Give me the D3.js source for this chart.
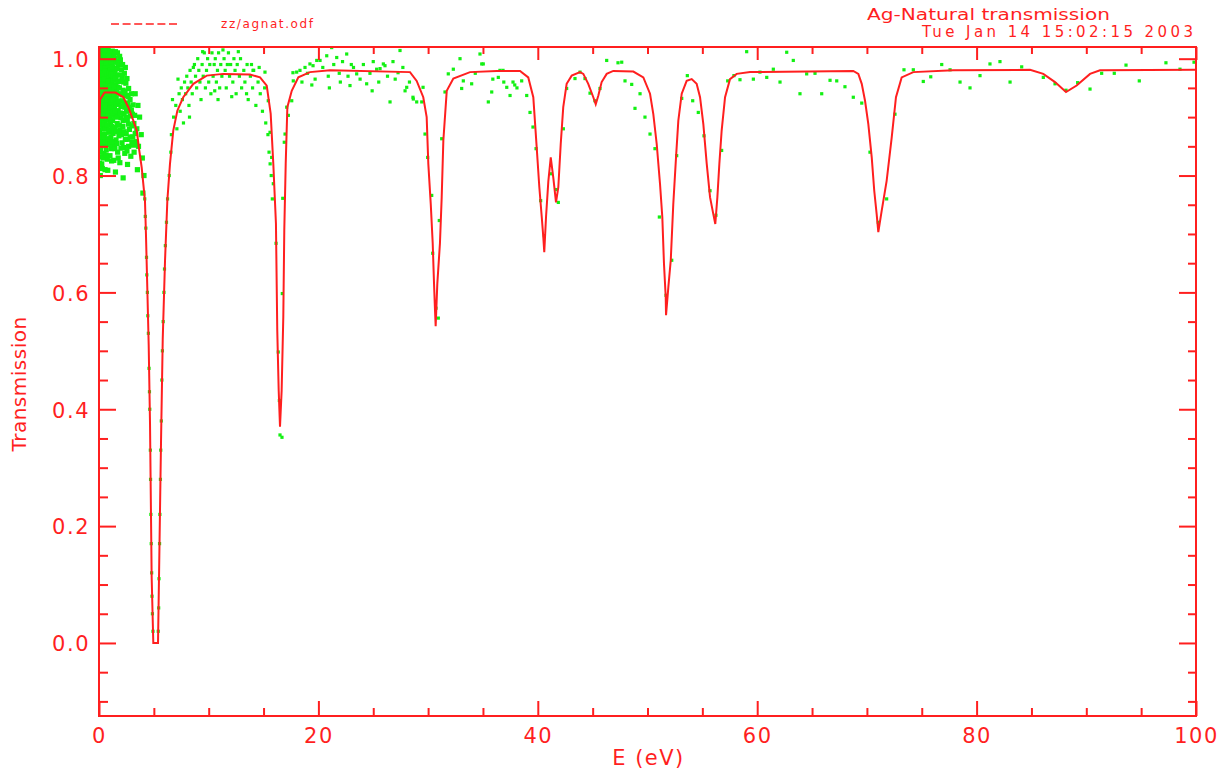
<!DOCTYPE html>
<html><head><meta charset="utf-8">
<script src="https://cdn.jsdelivr.net/npm/d3@7"></script>
<style>body{margin:0;background:#fff;overflow:hidden}</style>
</head><body>
<svg id="c" width="1229" height="773"></svg>
<script>
const titleText = "Ag-Natural transmission";
const dateText = "Tue Jan 14 15:02:15 2003";
const legendLabel = "zz/agnat.odf";
const xLabel = "E (eV)";
const yLabel = "Transmission";
const xMajorTicks = [0, 20, 40, 60, 80, 100];
const xTickLabels = ["0", "20", "40", "60", "80", "100"];
const xMinorTicks = [5,10,15,25,30,35,45,50,55,65,70,75,85,90,95];
const yMajorTicks = [0.0, 0.2, 0.4, 0.6, 0.8, 1.0];
const yTickLabels = ["0.0", "0.2", "0.4", "0.6", "0.8", "1.0"];
const yMinorTicks = [-0.1,-0.05,0.05,0.1,0.15,0.25,0.3,0.35,0.45,0.5,0.55,0.65,0.7,0.75,0.85,0.9,0.95];

// fitted transmission curve [E, T]
const fitCurve = [[0.05,0.900],[0.1,0.930],[0.5,0.942],[1.5,0.942],[2.22,0.934],[2.67,0.917],[3.13,0.894],[3.44,0.877],[3.67,0.843],[3.89,0.814],[4.19,0.757],[4.28,0.70],[4.40,0.61],[4.53,0.51],[4.65,0.376],[4.80,0.113],[4.95,0.0],[5.38,0.0],[5.50,0.15],[5.65,0.34],[5.81,0.52],[6.02,0.655],[6.23,0.757],[6.47,0.82],[6.77,0.877],[7.14,0.911],[7.68,0.934],[8.60,0.957],[9.82,0.971],[11.33,0.974],[13.76,0.973],[14.68,0.968],[15.29,0.954],[15.65,0.906],[15.89,0.82],[16.13,0.718],[16.25,0.535],[16.38,0.432],[16.50,0.37],[16.65,0.432],[16.80,0.558],[16.89,0.706],[17.02,0.82],[17.17,0.917],[17.57,0.945],[18.17,0.968],[19.23,0.977],[21.06,0.98],[28.35,0.977],[28.96,0.962],[29.56,0.934],[29.87,0.90],[30.02,0.82],[30.24,0.752],[30.42,0.684],[30.54,0.615],[30.63,0.569],[30.69,0.542],[30.84,0.615],[31.08,0.684],[31.24,0.763],[31.39,0.86],[31.70,0.945],[32.30,0.966],[33.82,0.977],[36.25,0.979],[38.38,0.979],[39.13,0.968],[39.59,0.934],[39.90,0.848],[40.14,0.78],[40.36,0.729],[40.50,0.695],[40.59,0.669],[40.75,0.729],[40.96,0.79],[41.18,0.831],[41.41,0.797],[41.66,0.754],[41.87,0.78],[42.09,0.854],[42.32,0.917],[42.63,0.957],[43.09,0.971],[43.85,0.977],[44.15,0.974],[44.60,0.957],[45.06,0.934],[45.28,0.922],[45.52,0.937],[45.82,0.96],[46.28,0.974],[46.88,0.979],[48.71,0.978],[49.62,0.968],[50.23,0.94],[50.53,0.905],[50.84,0.854],[51.14,0.786],[51.35,0.729],[51.50,0.65],[51.66,0.592],[51.69,0.561],[51.90,0.609],[52.12,0.655],[52.35,0.751],[52.60,0.831],[52.81,0.894],[53.12,0.94],[53.57,0.962],[54.03,0.965],[54.48,0.957],[54.79,0.934],[55.09,0.888],[55.40,0.82],[55.70,0.763],[56.00,0.734],[56.18,0.717],[56.37,0.763],[56.55,0.82],[56.76,0.877],[57.07,0.934],[57.52,0.965],[58.13,0.974],[59.35,0.977],[68.76,0.979],[69.22,0.974],[69.53,0.957],[69.83,0.928],[70.13,0.888],[70.44,0.831],[70.67,0.774],[70.89,0.734],[71.04,0.703],[71.35,0.74],[71.80,0.791],[72.26,0.865],[72.65,0.934],[73.17,0.968],[74.23,0.977],[77.87,0.98],[84.87,0.981],[86.08,0.974],[87.15,0.96],[88.15,0.943],[89.12,0.954],[90.34,0.974],[91.25,0.98],[100,0.981]];

// measured transmission points [E, T], low-energy cloud
const obsLowE = [[0.04,1.015],[0.18,1.008],[0.31,1.018],[0.47,1.004],[0.62,1.012],[0.83,1.016],[1.02,1.006],[1.21,1.013],[1.44,1.001],[1.68,1.010],[1.95,0.998],
[0.09,0.996],[0.24,0.989],[0.39,0.999],[0.55,0.992],[0.73,0.985],[0.91,0.997],[1.12,0.988],[1.33,0.994],[1.52,0.983],[1.78,0.990],[2.05,0.981],[2.31,0.975],
[0.02,0.978],[0.15,0.970],[0.29,0.981],[0.44,0.973],[0.6,0.966],[0.79,0.977],[0.97,0.969],[1.17,0.979],[1.38,0.964],[1.6,0.972],[1.85,0.961],[2.12,0.968],[2.45,0.958],[2.7,0.949],
[0.07,0.958],[0.21,0.950],[0.36,0.961],[0.52,0.953],[0.68,0.945],[0.86,0.957],[1.06,0.948],[1.26,0.955],[1.47,0.944],[1.7,0.951],[1.93,0.940],[2.2,0.946],[2.5,0.937],[2.83,0.930],[3.1,0.921],
[0.03,0.938],[0.13,0.931],[0.27,0.941],[0.42,0.934],[0.58,0.926],[0.76,0.937],[0.95,0.929],[1.15,0.936],[1.36,0.925],[1.57,0.933],[1.81,0.922],[2.08,0.928],[2.36,0.917],[2.62,0.924],[2.95,0.912],[3.25,0.903],
[0.1,0.918],[0.25,0.911],[0.4,0.921],[0.57,0.913],[0.72,0.905],[0.92,0.916],[1.1,0.908],[1.3,0.915],[1.5,0.903],[1.75,0.911],[2.0,0.899],[2.28,0.906],[2.58,0.895],[2.88,0.902],[3.18,0.889],[3.45,0.880],
[0.05,0.898],[0.19,0.890],[0.34,0.900],[0.5,0.892],[0.67,0.884],[0.85,0.895],[1.04,0.887],[1.24,0.894],[1.45,0.882],[1.66,0.889],[1.9,0.877],[2.18,0.884],[2.48,0.872],[2.77,0.879],[3.08,0.866],[3.38,0.858],
[0.08,0.878],[0.23,0.870],[0.38,0.880],[0.54,0.871],[0.7,0.863],[0.89,0.874],[1.08,0.865],[1.28,0.872],[1.55,0.861],[1.82,0.868],[2.1,0.856],[2.4,0.862],[2.7,0.850],[3.0,0.857],
[0.03,0.858],[0.16,0.850],[0.33,0.861],[0.48,0.852],[0.66,0.844],[0.88,0.855],[1.12,0.846],[1.4,0.852],[1.7,0.840],[2.0,0.847],[2.35,0.838],[2.9,0.833],
[0.06,0.840],[0.2,0.832],[0.45,0.838],[0.75,0.828],[1.0,0.834],[1.35,0.826],[1.9,0.822],[2.6,0.819],
[0.04,0.821],[0.3,0.812],[0.8,0.809],[1.5,0.806],[0.12,0.800],[2.2,0.796],
[0.12,1.001],[0.28,1.003],[0.43,1.011],[0.58,0.999],[0.77,1.002],[0.96,1.009],[1.16,0.999],[1.37,1.007],[1.58,0.995],
[0.01,0.988],[0.17,0.982],[0.33,0.991],[0.49,0.984],[0.65,0.978],[0.84,0.988],[1.04,0.981],[1.24,0.986],[1.46,0.976],[1.66,0.983],
[0.11,0.966],[0.26,0.959],[0.41,0.968],[0.57,0.961],[0.74,0.955],[0.93,0.964],[1.13,0.958],[1.32,0.963],[1.55,0.954],
[0.06,0.947],[0.19,0.940],[0.34,0.949],[0.49,0.942],[0.65,0.936],[0.83,0.946],[1.01,0.939],[1.22,0.943],[1.42,0.935],
[0.14,0.927],[0.31,0.920],[0.46,0.929],[0.63,0.921],[0.81,0.927],[1.0,0.919],[1.2,0.924],[1.41,0.916],
[0.02,0.909],[0.16,0.903],[0.31,0.909],[0.47,0.901],[0.63,0.896],[0.8,0.906],[0.99,0.899],[1.19,0.903],
[3.3,0.94],[3.55,0.92],[3.7,0.90],[3.85,0.87],[3.6,0.85],[3.95,0.83],[4.1,0.80],[4.0,0.77],[3.5,0.81],[3.2,0.84],
[0.02,1.005],[0.08,1.012],[0.22,0.996],[0.37,1.007],[0.53,1.015],[0.69,0.993],[0.88,1.004],[1.07,0.994],[1.27,1.0],[1.5,1.012],[1.73,0.992],[1.88,1.004],[2.15,0.99],[2.4,0.985],
[0.05,0.984],[0.2,0.975],[0.35,0.972],[0.52,0.979],[0.7,0.97],[0.9,0.975],[1.09,0.973],[1.29,0.97],[1.5,0.967],[1.73,0.962],[1.98,0.972],[2.25,0.96],[2.55,0.966],
[0.03,0.963],[0.17,0.957],[0.32,0.954],[0.47,0.965],[0.63,0.95],[0.8,0.962],[0.99,0.953],[1.19,0.946],[1.4,0.952],[1.62,0.942],[1.86,0.95],[2.1,0.938],[2.38,0.944],[2.65,0.935],[2.95,0.94],
[0.09,0.944],[0.24,0.937],[0.38,0.928],[0.54,0.946],[0.71,0.93],[0.88,0.94],[1.08,0.926],[1.3,0.93],[1.52,0.922],[1.75,0.927],[2.0,0.918],[2.25,0.925],[2.5,0.91],[2.8,0.917],[3.05,0.905],
[0.06,0.925],[0.21,0.916],[0.37,0.912],[0.52,0.92],[0.69,0.912],[0.87,0.91],[1.05,0.915],[1.25,0.908],[1.45,0.91],[1.67,0.9],[1.95,0.907],[2.2,0.894],[2.45,0.9],[2.7,0.888],[3.0,0.885],[3.3,0.872],
[0.13,0.893],[0.28,0.886],[0.43,0.889],[0.6,0.88],[0.78,0.887],[0.96,0.878],[1.16,0.884],[1.36,0.876],[1.6,0.875],[1.85,0.886],[2.05,0.87],[2.3,0.875],[2.6,0.862],[2.85,0.866],[3.15,0.852],
[0.01,0.869],[0.11,0.864],[0.27,0.857],[0.42,0.866],[0.6,0.858],[0.8,0.862],[0.98,0.853],[1.2,0.858],[1.45,0.846],[1.62,0.855],[2.25,0.848],[2.55,0.842],[0.14,0.842],[0.38,0.83],[0.62,0.835],[1.15,0.825],[1.75,0.83],[0.25,0.82],[0.55,0.81]];

const obsDip5 = [[4.17,0.76],[4.22,0.73],[4.27,0.71],[4.33,0.66],[4.36,0.63],[4.41,0.60],[4.45,0.56],[4.5,0.53],[4.56,0.47],[4.6,0.43],[4.63,0.40],[4.68,0.33],[4.7,0.28],[4.73,0.22],[4.76,0.17],[4.8,0.12],[4.83,0.08],[4.87,0.05],[4.92,0.02],
[5.4,0.02],[5.44,0.06],[5.47,0.11],[5.52,0.17],[5.55,0.22],[5.6,0.28],[5.63,0.33],[5.68,0.38],[5.73,0.45],[5.78,0.5],[5.85,0.55],[5.92,0.6],[5.97,0.64],[6.05,0.68],[6.15,0.72],[6.25,0.76],[6.4,0.8],[6.55,0.84]];

const obsMidE = [[6.6,0.87],[6.8,0.9],[6.7,0.93],[7.0,0.92],[7.1,0.88],[7.3,0.94],[7.4,0.91],[7.5,0.95],[7.6,0.93],[7.8,0.96],[7.9,0.94],[7.7,0.89],[8.0,0.97],[8.1,0.95],[8.2,0.92],[8.3,0.98],[8.4,0.96],[8.5,0.94],[8.7,0.99],[8.8,0.97],[8.9,0.95],[9.0,1.0],[9.1,0.98],[9.2,0.96],[9.3,0.93],[9.4,0.99],[9.5,0.97],[9.6,1.01],[9.7,0.95],[9.8,0.98],[9.9,1.0],[10.0,0.96],[10.1,0.99],[10.2,0.94],[10.3,1.01],[10.4,0.97],[10.5,0.99],[10.6,1.0],[10.7,0.96],[10.8,0.98],[10.9,1.01],[11.0,0.95],[11.1,0.99],[11.2,0.97],[11.4,1.0],[11.5,0.98],[11.6,0.95],[11.7,0.99],[11.8,1.01],[11.9,0.97],[12.0,0.99],[12.2,0.96],[12.3,1.0],[12.4,0.98],[12.5,0.94],[12.6,0.99],[12.8,0.97],[12.9,1.0],[13.0,0.95],[13.2,0.98],[13.3,0.96],[13.5,0.99],[13.6,0.93],[13.8,0.97],[14.0,0.95],[14.1,0.98],[14.3,0.92],[14.5,0.96],[14.7,0.94],[14.9,0.91],[15.1,0.95],[15.2,0.89],[15.4,0.87],[15.5,0.84],[15.6,0.82],[15.7,0.8],[15.8,0.76],
[7.2,0.965],[8.6,0.985],[9.45,1.012],[10.55,0.945],[11.3,1.015],[12.1,0.935],[12.7,1.012],[13.9,0.99],[14.6,0.985],[8.25,0.9],[10.85,0.93],[13.45,0.94],
[15.43,0.928],[15.59,0.874],[15.74,0.831],[15.89,0.786],[16.14,0.684],[16.34,0.498],[16.44,0.415],[16.50,0.356],[16.68,0.352],[16.71,0.598],[16.75,0.761],[16.89,0.857],[16.96,0.871],[15.13,0.977],[14.04,0.98],
[17.26,0.903],[17.57,0.928],[17.71,0.962],[18.02,0.977],[18.32,0.98],[19.23,0.991],[19.85,0.997],[20.76,1.005],[21.21,1.019],[21.67,1.002],[22.58,1.008],[22.88,0.954],[23.49,0.974],[24.40,0.957],[25.31,0.982],[25.92,0.991],[26.53,0.926],[27.44,1.014],[17.11,0.917],[17.68,0.976],[18.78,0.985],[19.51,0.988],[20.15,0.997],[23.2,0.985],[25.62,0.983],[26.07,0.988],[27.26,0.976],[28.62,0.934],
[18.5,0.96],[19.0,0.975],[19.7,0.965],[20.4,0.985],[20.9,0.97],[21.4,0.99],[21.9,0.975],[22.2,0.995],[22.7,0.97],[23.0,0.99],[23.8,0.965],[24.1,0.99],[24.7,0.975],[25.0,0.995],[25.5,0.96],[26.3,0.97],[26.8,0.995],[27.0,0.965],[27.7,0.985],[28.3,0.96],[19.4,0.955],[21.0,0.95],[22.0,0.96],[24.9,0.945],[27.9,0.945],
[29.42,0.926],[29.72,0.871],[29.96,0.831],[30.33,0.766],[30.42,0.667],[30.72,0.573],[30.93,0.556],[31.02,0.723],[31.24,0.863],[31.54,0.943],[31.84,0.974],[28.96,0.926],[28.65,0.931],[28.05,0.951],[29.54,0.951]];

const obsHighE = [[32.30,0.982],[32.91,1.0],[33.21,0.962],[33.97,0.957],[34.73,1.008],[35.03,0.991],[35.49,0.926],[35.80,0.943],[36.40,0.968],[33.06,0.949],[34.89,0.991],[36.55,0.98],[34.3,0.975],[35.9,0.965],[36.9,0.96],[38.1,0.95],
[36.83,0.98],[37.17,0.951],[37.74,0.96],[37.9,0.955],[38.53,0.962],[37.47,0.937],[38.99,0.937],[39.29,0.908],[39.56,0.883],[39.84,0.846],[40.26,0.757],[40.59,0.697],[41.18,0.803],[41.66,0.776],[41.87,0.754],[42.33,0.88],[42.63,0.949],[43.39,0.966],[43.85,0.977],[44.30,0.966],[44.76,0.941],[45.21,0.928],[45.67,0.949],[46.28,0.997],[47.31,0.993],[47.65,0.994],[47.95,0.962],[48.56,0.956],[49.32,0.94],[48.86,0.915],[49.77,0.9],[50.23,0.871],[50.68,0.846],[51.08,0.729],[51.69,0.595],[52.21,0.655],[52.66,0.834],[53.12,0.932],[53.63,0.971],[54.12,0.928],[54.63,0.908],[55.15,0.868],[55.70,0.774],[56.24,0.732],[56.76,0.843],[57.31,0.962],[57.88,0.971],[58.43,0.964],[59.04,1.012],
[59.65,0.965],[60.25,0.977],[60.87,0.968],[61.47,0.982],[62.08,0.96],[62.69,1.011],[63.29,0.997],[63.90,0.94],[64.51,0.974],[65.27,0.975],[65.88,0.94],[66.64,0.963],[67.25,0.962],[68.00,0.952],[68.76,0.934],[69.53,0.924],[70.28,0.84],[71.04,0.72],[71.80,0.76],[72.56,0.905],[73.38,0.981],[74.23,0.981],[75.14,0.961],[75.82,0.969],[76.82,0.99],[77.58,0.981],[78.49,0.96],[79.40,0.95],[80.31,0.971],[81.22,0.991],[82.13,0.995],[83.05,0.96],[84.11,0.986],[86.08,0.968],[87.15,0.957],[88.15,0.946],[89.21,0.959],[90.34,0.948],[91.40,0.975],[92.55,0.975],[93.62,0.989],[94.83,0.962],[97.26,0.993],[98.54,0.982],[99.82,0.994]];

const RED = "#ff1f1f", GREEN = "#12f012";
const FONT = "'DejaVu Sans', sans-serif";
const box = {left: 99, right: 1196, top: 47, bottom: 716};

const x = d3.scaleLinear().domain([0, 100]).range([box.left, box.right]);
const y = d3.scaleLinear().domain([-0.125, 1.02]).range([box.bottom, box.top]);
const svg = d3.select("#c");

svg.append("defs").append("clipPath").attr("id", "clip")
  .append("rect").attr("x", box.left).attr("y", box.top)
  .attr("width", box.right - box.left).attr("height", box.bottom - box.top);

const plot = svg.append("g").attr("clip-path", "url(#clip)");
function drawPoints(data, size, cls) {
  plot.selectAll("rect." + cls).data(data).join("rect").attr("class", cls)
    .attr("x", d => x(d[0]) - size / 2).attr("y", d => y(d[1]) - size / 2)
    .attr("width", size).attr("height", size).attr("fill", GREEN);
}
drawPoints(obsLowE, 5.2, "lo");
drawPoints(obsDip5.concat(obsMidE, obsHighE), 3.2, "hi");

plot.append("path").datum(fitCurve)
  .attr("d", d3.line().x(d => x(d[0])).y(d => y(d[1])))
  .attr("fill", "none").attr("stroke", RED).attr("stroke-width", 2);

function styleAxis(g) {
  g.select(".domain").remove();
  g.selectAll(".tick line").attr("stroke", RED).attr("stroke-width", 2);
  g.selectAll(".tick text").attr("fill", RED).attr("font-family", FONT)
    .attr("font-size", 21).style("letter-spacing", "1.5px");
}

// bottom
svg.append("g").attr("transform", `translate(0,${box.bottom})`)
  .call(d3.axisBottom(x).tickValues(xMajorTicks).tickSize(-15).tickFormat((d, i) => xTickLabels[i]))
  .call(styleAxis).call(g => g.selectAll(".tick text").attr("y", 27).attr("dy", null));
svg.append("g").attr("transform", `translate(0,${box.bottom})`)
  .call(d3.axisBottom(x).tickValues(xMinorTicks).tickSize(-8).tickFormat(""))
  .call(styleAxis);
// top
svg.append("g").attr("transform", `translate(0,${box.top})`)
  .call(d3.axisTop(x).tickValues(xMajorTicks).tickSize(-13).tickFormat(""))
  .call(styleAxis);
svg.append("g").attr("transform", `translate(0,${box.top})`)
  .call(d3.axisTop(x).tickValues(xMinorTicks).tickSize(-7).tickFormat(""))
  .call(styleAxis);
// left
svg.append("g").attr("transform", `translate(${box.left},0)`)
  .call(d3.axisLeft(y).tickValues(yMajorTicks).tickSize(-17).tickFormat((d, i) => yTickLabels[i]))
  .call(styleAxis).call(g => g.selectAll(".tick text").attr("x", -9).attr("dy", "0.37em"));
svg.append("g").attr("transform", `translate(${box.left},0)`)
  .call(d3.axisLeft(y).tickValues(yMinorTicks).tickSize(-9).tickFormat(""))
  .call(styleAxis);
// right
svg.append("g").attr("transform", `translate(${box.right},0)`)
  .call(d3.axisRight(y).tickValues(yMajorTicks).tickSize(-17).tickFormat(""))
  .call(styleAxis);
svg.append("g").attr("transform", `translate(${box.right},0)`)
  .call(d3.axisRight(y).tickValues(yMinorTicks).tickSize(-8).tickFormat(""))
  .call(styleAxis);

// frame
svg.append("rect").attr("x", box.left).attr("y", box.top)
  .attr("width", box.right - box.left).attr("height", box.bottom - box.top)
  .attr("fill", "none").attr("stroke", RED).attr("stroke-width", 2);

// axis titles
svg.append("text").text(xLabel).attr("x", (box.left + box.right) / 2 + 1).attr("y", 765)
  .attr("text-anchor", "middle").attr("fill", RED).attr("font-family", FONT)
  .attr("font-size", 21).style("letter-spacing", "1.5px");
svg.append("text").text(yLabel).attr("transform", "translate(26,384) rotate(-90)")
  .attr("text-anchor", "middle").attr("fill", RED).attr("font-family", FONT)
  .attr("font-size", 20).style("letter-spacing", "0.5px");

// title block
svg.append("text").text(titleText).attr("x", 867).attr("y", 20)
  .attr("fill", RED).attr("font-family", FONT).attr("font-size", 15)
  .attr("textLength", 243).attr("lengthAdjust", "spacingAndGlyphs");
svg.append("text").text(dateText).attr("x", 922).attr("y", 37)
  .attr("fill", RED).attr("font-family", FONT).attr("font-size", 15)
  .attr("textLength", 271).attr("lengthAdjust", "spacing");

// legend
svg.append("line").attr("x1", 111).attr("x2", 180).attr("y1", 24).attr("y2", 24)
  .attr("stroke", RED).attr("stroke-width", 1.5).attr("stroke-dasharray", "8,3.6");
svg.append("text").text(legendLabel).attr("x", 221).attr("y", 28)
  .attr("fill", RED).attr("font-family", FONT).attr("font-size", 12)
  .attr("textLength", 92).attr("lengthAdjust", "spacing");
</script>
</body></html>
